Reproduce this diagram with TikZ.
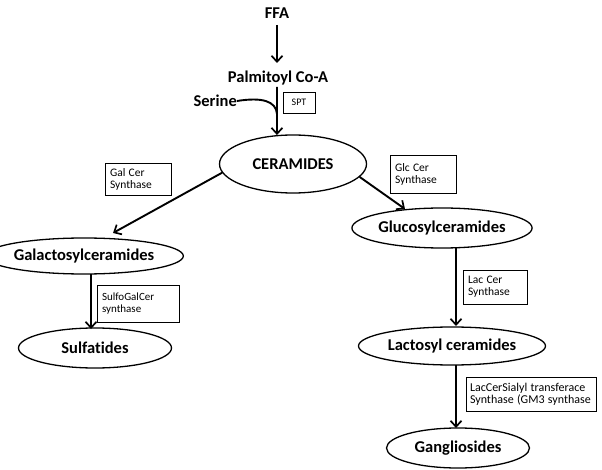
\documentclass[tikz,border=0pt]{standalone}
\usepackage{fontspec}
\setmainfont[Ligatures=NoCommon]{Carlito}
\usetikzlibrary{shapes.geometric,arrows.meta}
\newcommand{\enzfont}{\fontsize{11.5}{15}\selectfont}
\begin{document}
\begin{tikzpicture}[x=1pt,y=-1pt,
  lbl/.style={font=\fontsize{16.5}{18}\selectfont\bfseries, inner sep=0pt},
  ell/.style={ellipse, draw, line width=1.3pt, inner sep=0pt, font=\fontsize{16.5}{18}\selectfont\bfseries},
  enz/.style={draw, line width=0.7pt, inner sep=0pt, align=left},
  arr/.style={line width=1.9pt, -{Straight Barb[length=6pt,width=11pt,line width=1.7pt]}}]
\useasboundingbox (0,0) rectangle (602,470);
\node[lbl] (ffa) at (277,13) {FFA};
\node[lbl] (pal) at (278,78) {Palmitoyl Co-A};
\node[lbl, anchor=east] (ser) at (237,101) {Serine};
\node[ell, minimum width=147, minimum height=58] (cer) at (293,164) {CERAMIDES};
\node[ell, minimum width=157, minimum height=36] (gal) at (84,256) {Galactosylceramides};
\node[ell, minimum width=154, minimum height=40] (glc) at (442,228) {Glucosylceramides};
\node[ell, minimum width=153, minimum height=40] (sul) at (95,348) {Sulfatides};
\node[ell, minimum width=187, minimum height=38] (lac) at (452,346) {Lactosyl ceramides};
\node[ell, minimum width=143, minimum height=40] (gan) at (458,448) {Gangliosides};
\node[enz, minimum width=32, minimum height=21, align=center] (spt) at (299,102.5) {\fontsize{10}{11}\selectfont SPT};
\node[enz, minimum width=66, minimum height=32, text width=56] (galsyn) at (138,179) {\enzfont Gal Cer\\Synthase};
\node[enz, minimum width=66, minimum height=38, text width=56] (glcsyn) at (423,174) {\enzfont Glc Cer\\Synthase};
\node[enz, minimum width=82, minimum height=37, text width=72] (sulsyn) at (138,303.5) {\fontsize{11}{15}\selectfont SulfoGalCer\\synthase};
\node[enz, minimum width=64, minimum height=34, text width=54] (lacsyn) at (495,287) {\enzfont Lac Cer\\Synthase};
\node[enz, minimum width=130, minimum height=34, text width=122] (gm3) at (531,394) {\fontsize{12}{13}\selectfont LacCerSialyl transferace\\Synthase (GM3 synthase};
\coordinate (join) at (277,114);
\draw[arr] (277,25) -- (277,63);
\draw[arr] (277,87) -- (cer.119.5);
\draw[line width=1.9pt] (ser.east) .. controls (262,97) and (276,101) .. (join);
\draw[arr] (cer.187) -- (113,233);
\draw[arr] (cer.-11) -- (405,209);
\draw[arr] (91,274) -- (91,329);
\draw[arr] (456,248) -- (456,326);
\draw[arr] (456,365) -- (456,428);
\end{tikzpicture}
\end{document}
